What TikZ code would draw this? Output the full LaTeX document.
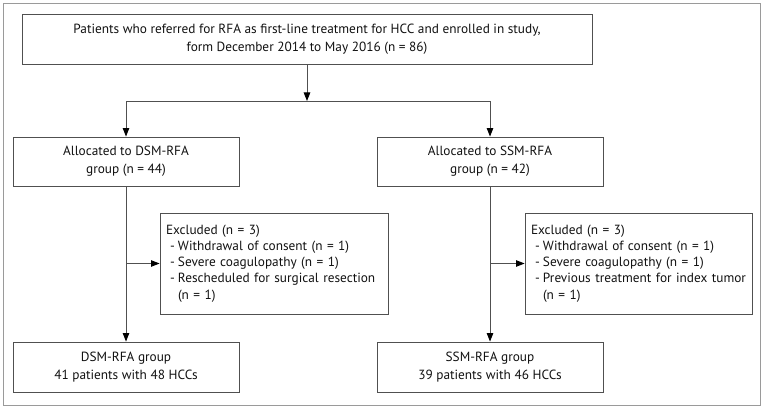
\documentclass[tikz,border=0pt]{standalone}
\usepackage{fontspec}
\setmainfont{PT Sans}
\usetikzlibrary{arrows.meta}
\definecolor{boxline}{HTML}{505050}
\definecolor{frameline}{HTML}{9A9A9A}
\definecolor{txt}{HTML}{111111}
\tikzset{
  box/.style={draw=boxline, line width=0.9pt, inner sep=0pt, text=txt,
    font=\fontsize{13.3}{18}\selectfont, align=center},
  exbox/.style={draw=boxline, line width=0.9pt, inner sep=6pt, text=txt,
    font=\fontsize{13.3}{16.2}\selectfont, align=left},
  conn/.style={draw=boxline, line width=0.9pt},
  arr/.style={conn, -{Triangle[length=8.5pt,width=6.5pt,fill=black,color=black]}}
}
\newcommand{\exitem}[1]{\mbox{\hspace*{4pt}\makebox[8pt][l]{-}#1}}
\begin{document}
\begin{tikzpicture}[x=1pt,y=-1pt]
\useasboundingbox (0,0) rectangle (764,409);
\draw[frameline, line width=0.9pt] (3,3) rectangle (760,405);

\node[box, minimum width=570pt, minimum height=50pt] (top) at (307,39)
  {Patients who referred for RFA as first-line treatment for HCC and enrolled in study,\\
   form December 2014 to May 2016 (n = 86)};
\node[box, minimum width=226pt, minimum height=49pt] (dsm) at (126,161.5)
  {Allocated to DSM-RFA\\group (n = 44)};
\node[box, minimum width=226pt, minimum height=49pt] (ssm) at (490,161.5)
  {Allocated to SSM-RFA\\group (n = 42)};
\node[exbox, text width=216pt, minimum height=101pt] (exl) at (274,263.5)
  {Excluded (n = 3)\\
   \exitem{Withdrawal of consent (n = 1)}\\
   \exitem{Severe coagulopathy (n = 1)}\\
   \exitem{Rescheduled for surgical resection}\\
   \hspace*{12pt}(n = 1)};
\node[exbox, text width=215pt, minimum height=101pt] (exr) at (638.5,263.5)
  {Excluded (n = 3)\\
   \exitem{Withdrawal of consent (n = 1)}\\
   \exitem{Severe coagulopathy (n = 1)}\\
   \exitem{Previous treatment for index tumor}\\
   \hspace*{12pt}(n = 1)};
\node[box, minimum width=226pt, minimum height=50pt] (dsmg) at (126,367)
  {DSM-RFA group\\41 patients with 48 HCCs};
\node[box, minimum width=226pt, minimum height=50pt] (ssmg) at (490,367)
  {SSM-RFA group\\39 patients with 46 HCCs};

\coordinate (split) at (top.south |- 0,101);
\coordinate (dsmsplit) at (dsm.south |- exl.west);
\coordinate (ssmsplit) at (ssm.south |- exr.west);

\draw[arr] (top.south) -- (split);
\draw[arr] (split) -| (dsm.north);
\draw[arr] (split) -| (ssm.north);
\draw[arr] (dsm.south) -- (dsmg.north);
\draw[arr] (ssm.south) -- (ssmg.north);
\draw[arr] (dsmsplit) -- (exl.west);
\draw[arr] (ssmsplit) -- (exr.west);
\end{tikzpicture}
\end{document}
